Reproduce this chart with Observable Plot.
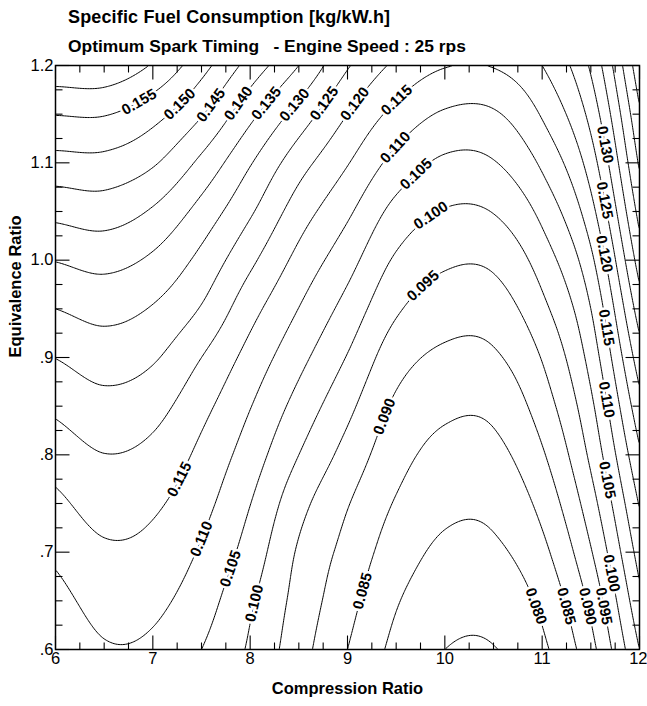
<!DOCTYPE html>
<html><head><meta charset="utf-8">
<script src="https://cdn.jsdelivr.net/npm/d3@7"></script>
<script src="https://cdn.jsdelivr.net/npm/@observablehq/plot@0.6"></script>
<style>
body{margin:0;background:#fff;font-family:"Liberation Sans",Arial,Helvetica,sans-serif;}
#wrap{position:relative;width:647px;height:706px;overflow:hidden;}
#chart{position:absolute;left:0;top:0;}
.t{position:absolute;left:68px;font-weight:bold;color:#000;white-space:pre;line-height:normal;}
#title{top:7px;font-size:18px;letter-spacing:0.15px;}
#subtitle{top:36px;font-size:17.4px;}
</style></head>
<body><div id="wrap"><div id="chart"></div>
<div class="t" id="title">Specific Fuel Consumption [kg/kW.h]</div>
<div class="t" id="subtitle">Optimum Spark Timing   - Engine Speed : 25 rps</div></div>
<script>
// ---- data ----
const compressionRatio = [6, 6.5, 7, 7.5, 8, 8.5, 9, 9.5, 10, 10.5, 11, 11.5, 12];
const equivalenceRatio = [0.6, 0.65, 0.7, 0.75, 0.8, 0.85, 0.9, 0.95, 1.0, 1.05, 1.1, 1.15, 1.2];
// specific fuel consumption [kg/kW.h]; one row per compression ratio, values along equivalence ratio
const sfc = [
  [0.1058, 0.1083, 0.1110, 0.1139, 0.1173, 0.1210, 0.1251, 0.1300, 0.1352, 0.1415, 0.1483, 0.1552, 0.1638],
  [0.1095, 0.1118, 0.1142, 0.1170, 0.1199, 0.1234, 0.1273, 0.1316, 0.1365, 0.1424, 0.1485, 0.1553, 0.1640],
  [0.1090, 0.1112, 0.1135, 0.1158, 0.1186, 0.1218, 0.1256, 0.1296, 0.1341, 0.1394, 0.1456, 0.1518, 0.1595],
  [0.1050, 0.1072, 0.1094, 0.1116, 0.1138, 0.1165, 0.1200, 0.1246, 0.1286, 0.1332, 0.1388, 0.1454, 0.1518],
  [0.0993, 0.1007, 0.1029, 0.1051, 0.1076, 0.1102, 0.1132, 0.1168, 0.1211, 0.1257, 0.1304, 0.1364, 0.1431],
  [0.0920, 0.0932, 0.0944, 0.0967, 0.1000, 0.1032, 0.1065, 0.1099, 0.1135, 0.1175, 0.1221, 0.1280, 0.1350],
  [0.0850, 0.0867, 0.0884, 0.0903, 0.0932, 0.0963, 0.0997, 0.1032, 0.1069, 0.1109, 0.1153, 0.1200, 0.1255],
  [0.0787, 0.0804, 0.0825, 0.0846, 0.0868, 0.0891, 0.0921, 0.0957, 0.0993, 0.1034, 0.1083, 0.1135, 0.1190],
  [0.0750, 0.0770, 0.0790, 0.0812, 0.0835, 0.0860, 0.0890, 0.0923, 0.0958, 0.0997, 0.1041, 0.1094, 0.1153],
  [0.0748, 0.0769, 0.0791, 0.0813, 0.0836, 0.0862, 0.0893, 0.0925, 0.0960, 0.1002, 0.1047, 0.1094, 0.1153],
  [0.0790, 0.0811, 0.0837, 0.0865, 0.0894, 0.0924, 0.0953, 0.0987, 0.1023, 0.1064, 0.1109, 0.1155, 0.1200],
  [0.0884, 0.0912, 0.0946, 0.0979, 0.1011, 0.1039, 0.1069, 0.1100, 0.1138, 0.1182, 0.1225, 0.1267, 0.1308],
  [0.1050, 0.1086, 0.1120, 0.1154, 0.1192, 0.1233, 0.1277, 0.1325, 0.1373, 0.1417, 0.1457, 0.1493, 0.1533]
];
const contourLevels = [0.075, 0.080, 0.085, 0.090, 0.095, 0.100, 0.105, 0.110, 0.115, 0.120,
                       0.125, 0.130, 0.135, 0.140, 0.145, 0.150, 0.155, 0.160];
const xTicks = [6, 7, 8, 9, 10, 11, 12];
const yTicks = [0.6, 0.7, 0.8, 0.9, 1.0, 1.1, 1.2];
const yTickLabels = [".6", ".7", ".8", ".9", "1.0", "1.1", "1.2"];
// contour labels: level and approximate place (compression ratio, equivalence ratio)
const labelLevel = [0.155, 0.150, 0.145, 0.140, 0.135, 0.130, 0.125, 0.120, 0.115,
                    0.110, 0.105, 0.100, 0.095, 0.090, 0.085, 0.080,
                    0.115, 0.110, 0.105, 0.100,
                    0.130, 0.125, 0.120, 0.115, 0.110, 0.105, 0.100, 0.095, 0.090, 0.085];
const labelCR = [6.85, 7.26, 7.60, 7.88, 8.18, 8.45, 8.76, 9.07, 9.51,
                 9.49, 9.71, 9.87, 9.79, 9.39, 9.16, 10.95,
                 7.25, 7.49, 7.80, 8.06,
                 11.73, 11.73, 11.73, 11.74, 11.74, 11.77, 11.75, 11.66, 11.50, 11.27];
const labelER = [1.164, 1.162, 1.159, 1.161, 1.160, 1.160, 1.161, 1.161, 1.164,
                 1.116, 1.088, 1.044, 0.972, 0.839, 0.660, 0.645,
                 0.776, 0.714, 0.683, 0.647,
                 1.120, 1.063, 1.008, 0.932, 0.858, 0.776, 0.679, 0.645, 0.645, 0.645];

// ---- smooth (bicubic) resampling of the grid for drawing ----
const nx = compressionRatio.length, ny = equivalenceRatio.length;
const gx0 = compressionRatio[0], gdx = compressionRatio[1] - compressionRatio[0];
const gy0 = equivalenceRatio[0], gdy = equivalenceRatio[1] - equivalenceRatio[0];
function G(i, j) {
  if (i < 0) return 2 * G(0, j) - G(1, j);
  if (i > nx - 1) return 2 * G(nx - 1, j) - G(nx - 2, j);
  if (j < 0) return 2 * G(i, 0) - G(i, 1);
  if (j > ny - 1) return 2 * G(i, ny - 1) - G(i, ny - 2);
  return sfc[i][j];
}
function cr(p0, p1, p2, p3, t) {
  return p1 + 0.5 * t * (p2 - p0 + t * (2 * p0 - 5 * p1 + 4 * p2 - p3 + t * (3 * (p1 - p2) + p3 - p0)));
}
function field(x, y) {
  const u = Math.max(0, Math.min(nx - 1, (x - gx0) / gdx));
  const v = Math.max(0, Math.min(ny - 1, (y - gy0) / gdy));
  const i = Math.min(Math.floor(u), nx - 2), j = Math.min(Math.floor(v), ny - 2);
  const t = u - i, s = v - j;
  const c = [];
  for (let k = -1; k <= 2; k++) c.push(cr(G(i - 1, j + k), G(i, j + k), G(i + 1, j + k), G(i + 2, j + k), t));
  return cr(c[0], c[1], c[2], c[3], s);
}
const W = 360, H = 360;
const X1 = 5.95, X2 = 12.05, Y1 = 0.595, Y2 = 1.205;
const dense = new Array(W * H);
for (let j = 0; j < H; j++) {
  const y = Y1 + (j + 0.5) * (Y2 - Y1) / H;
  for (let i = 0; i < W; i++) {
    const x = X1 + (i + 0.5) * (X2 - X1) / W;
    dense[i + j * W] = field(x, y);
  }
}

// ---- layout ----
const width = 647, height = 706;
const mt = 65, mr = 8, mb = 57, ml = 55;
const sx = (width - ml - mr) / 6, sy = (height - mt - mb) / 0.6;

// place labels on their contour, rotate along it
const labels = labelLevel.map((L, k) => {
  let x = labelCR[k], y = labelER[k];
  const h = 1e-4;
  let gX = 0, gY = 0;
  for (let it = 0; it < 10; it++) {
    const fx = (field(x + h, y) - field(x - h, y)) / (2 * h);
    const fy = (field(x, y + h) - field(x, y - h)) / (2 * h);
    gX = fx / sx; gY = -fy / sy;
    const g2 = gX * gX + gY * gY;
    const d = (L - field(x, y)) / g2;
    let mx = d * gX, my = d * gY;
    const m = Math.hypot(mx, my);
    if (m > 5) { mx *= 5 / m; my *= 5 / m; }
    x += mx / sx; y -= my / sy;
  }
  let a = Math.atan2(-gX, gY) * 180 / Math.PI;
  if (a > 90) a -= 180;
  if (a <= -90) a += 180;
  return {x, y, text: L.toFixed(3), angle: a};
});

const xMinor = d3.range(6, 12.001, 0.25).filter(d => Math.abs(d - Math.round(d)) > 1e-6);
const yMinor = d3.range(0.6, 1.2001, 0.025).filter(d => Math.abs(d * 10 - Math.round(d * 10)) > 1e-6);
const font = "'Liberation Sans', Arial, Helvetica, sans-serif";
const majorLen = 14, minorLen = 7; // px, inward ticks
// tick segments (position along the axis, extent across it)
const tickSegs = [
  ...xTicks.map(v => ({x1: v, x2: v, y1: 0.6, y2: 0.6 + majorLen / sy})),
  ...xMinor.map(v => ({x1: v, x2: v, y1: 0.6, y2: 0.6 + minorLen / sy})),
  ...xTicks.map(v => ({x1: v, x2: v, y1: 1.2 - majorLen / sy, y2: 1.2})),
  ...xMinor.map(v => ({x1: v, x2: v, y1: 1.2 - minorLen / sy, y2: 1.2})),
  ...yTicks.map(v => ({x1: 6, x2: 6 + majorLen / sx, y1: v, y2: v})),
  ...yMinor.map(v => ({x1: 6, x2: 6 + minorLen / sx, y1: v, y2: v})),
  ...yTicks.map(v => ({x1: 12 - majorLen / sx, x2: 12, y1: v, y2: v})),
  ...yMinor.map(v => ({x1: 12 - minorLen / sx, x2: 12, y1: v, y2: v}))
];

const plot = Plot.plot({
  width, height,
  marginTop: mt, marginRight: mr, marginBottom: mb, marginLeft: ml,
  style: {fontFamily: font, background: "white", color: "black", overflow: "visible"},
  x: {domain: [6, 12]},
  y: {domain: [0.6, 1.2]},
  marks: [
    Plot.contour(dense, {value: Plot.identity, x1: X1, y1: Y1, x2: X2, y2: Y2, width: W, height: H,
      thresholds: contourLevels, stroke: "black", strokeWidth: 1, fill: "none", clip: true}),
    Plot.text(labels, {x: "x", y: "y", text: "text", rotate: "angle", fontSize: 15, fontWeight: "bold",
      fill: "black", stroke: "white", strokeWidth: 5, paintOrder: "stroke"}),
    Plot.link(tickSegs, {x1: "x1", x2: "x2", y1: "y1", y2: "y2", stroke: "black", strokeWidth: 1.1}),
    Plot.frame({stroke: "black", strokeWidth: 1.5}),
    Plot.axisX(xTicks.slice(0, -1), {anchor: "bottom", tickSize: 0, tickPadding: 3, fontSize: 16.5, label: null, tickFormat: d => String(d)}),
    Plot.text(xTicks.slice(-1), {x: d => d, text: d => String(d), frameAnchor: "bottom", dy: 3, dx: 8, lineAnchor: "top", textAnchor: "end", fontSize: 16.5}),
    Plot.axisY(yTicks, {anchor: "left", tickSize: 0, tickPadding: 2, fontSize: 16.5, label: null,
      tickFormat: d => yTickLabels[yTicks.indexOf(d)]}),
    Plot.text(["Equivalence Ratio"], {text: d => d, frameAnchor: "left", dx: -40, rotate: -90, fontSize: 16.5, fontWeight: "bold"}),
    Plot.text(["Compression Ratio"], {text: d => d, frameAnchor: "bottom", dy: 44, fontSize: 16.5, fontWeight: "bold"})
  ]
});
document.getElementById("chart").appendChild(plot);
</script></body></html>
